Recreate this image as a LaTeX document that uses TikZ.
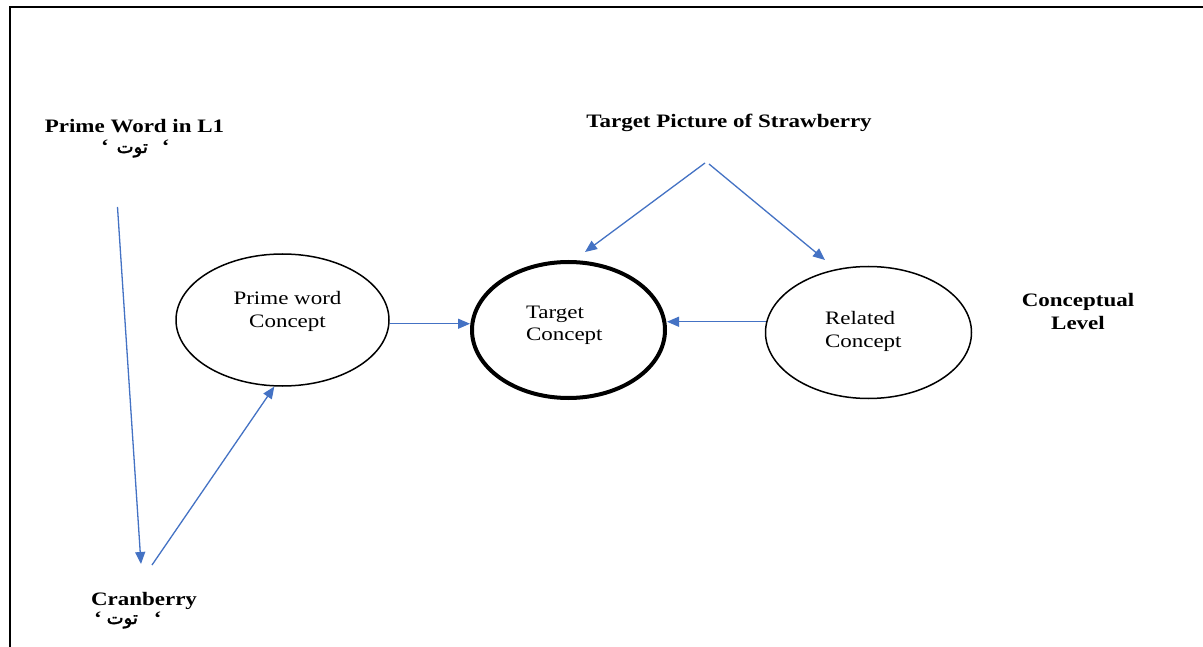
\documentclass[tikz,border=0pt]{standalone}
\usepackage{fontspec}
\setmainfont[FakeStretch=1.21]{Liberation Serif}
\newfontfamily\arabicfont[Script=Arabic,FakeBold=2]{DejaVu Sans}
\TeXXeTstate=1
\usetikzlibrary{arrows.meta,calc,shapes.geometric}
\definecolor{linkblue}{HTML}{4472C4}
% bold Latin quotation mark set beside the Arabic word
\newcommand\lquote{{\rmfamily\bfseries\fontsize{19}{20}\selectfont ‘}}
\begin{document}
\begin{tikzpicture}[x=1pt,y=-1pt,
  txt/.style={inner sep=0pt, outer sep=0pt},
  heading/.style={txt, font=\fontsize{19}{23}\selectfont\bfseries, align=center},
  inside/.style={txt, font=\fontsize{19}{22.5}\selectfont},
  concept/.style={ellipse, draw, line width=1.5pt, inner sep=0pt},
  arabic/.style={txt, font=\arabicfont\fontsize{18}{20}\selectfont},
  arr/.style={draw=linkblue, line width=1.3pt, -{Triangle[length=12pt,width=10pt]}}]
\useasboundingbox (0,0) rectangle (1203,647);
\fill[white] (0,0) rectangle (1203,647);
% outer frame (top and left edges)
\draw[line width=2pt] (9.5,647) -- (9.5,6.7) -- (1203,6.7);

% concepts
\node[concept, minimum width=213pt, minimum height=132pt] (prime) at (282.5,320) {};
\node[concept, line width=4pt, minimum width=193pt, minimum height=136pt] (target) at (568.5,330) {};
\node[concept, minimum width=206pt, minimum height=132pt] (related) at (868.5,332.5) {};

% two-line texts are placed by the baseline of their last line
\node[inside, align=center, anchor=base] (primetxt) at (287.5,327) {Prime word\\Concept};
\node[inside, align=left, anchor=base west] (targettxt) at (526,341) {Target\\Concept};
\node[inside, align=left, anchor=base west] (relatedtxt) at (825,347) {Related\\Concept};

% labels
\node[heading, anchor=base] (l1word) at (134.5,133) {Prime Word in L1};
\node[arabic, anchor=base west] (l1ar) at (101,153) {\beginR\lquote\hspace{14pt}توت\hspace{8pt}\lquote\endR};
\node[heading, anchor=base west] (cran) at (91,605) {Cranberry};
\node[arabic, anchor=base west] (cranar) at (94,624) {\beginR\lquote\hspace{16pt}توت\hspace{5pt}\lquote\endR};
\node[heading, anchor=base] (picture) at (729,128) {Target Picture of Strawberry};
\node[heading, anchor=base] (level) at (1078,330) {Conceptual\\Level};

% connector ends
\coordinate (wordfoot) at (117.5,207);
\coordinate (cranhead) at (141,564);
\coordinate (cranfoot) at (152,565);
\coordinate (forkl) at (705,163);
\coordinate (forkr) at (709,164);
\coordinate (tiptarget) at (585,252);
\coordinate (tiprelated) at (825,260);

% connectors
\draw[arr] (wordfoot) -- (cranhead);
\draw[arr] (cranfoot) -- (prime.-97);
\draw[arr] (prime.-2) -- (prime.-2 -| target.west);
\draw[arr] (related.174) -- (related.174 -| target.east);
\draw[arr] (forkl) -- (tiptarget);
\draw[arr] (forkr) -- (tiprelated);
\end{tikzpicture}
\end{document}
